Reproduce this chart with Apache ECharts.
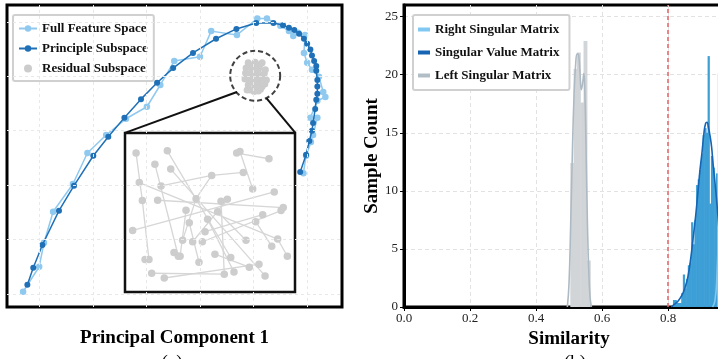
<!DOCTYPE html>
<html>
<head>
<meta charset="utf-8">
<script src="https://cdn.jsdelivr.net/npm/echarts@6/dist/echarts.min.js"></script>
<style>
  html, body { margin: 0; padding: 0; background: #fff; }
  #main { width: 718px; height: 359px; }
</style>
</head>
<body>
<div id="main"></div>
<script>
// ---- panel (a): trajectories in PCA space ----
const fullFeature = [
  [-0.30,0.04],[0.00,0.50],[0.09,0.94],[0.26,1.51],[0.63,2.02],[0.90,2.59],[1.25,2.92],[1.62,3.22],
  [2.01,3.44],[2.26,3.84],[2.52,4.28],[3.00,4.36],[3.21,4.83],[3.69,4.76],[4.07,5.06],[4.25,5.06],
  [4.50,4.93],[4.66,4.83],[4.74,4.74],[4.83,4.80],[4.96,4.76],[4.94,4.43],[5.00,4.25],[5.09,4.12],
  [5.22,3.99],[5.30,3.71],[5.34,3.62],[5.19,3.55],[5.06,3.24],[5.19,3.24],[5.11,2.92],[5.07,2.79],
  [4.98,2.54],[4.93,2.22]
];
const principle = [
  [-0.22,0.17],[-0.11,0.48],[0.06,0.90],[0.37,1.53],[0.65,1.99],[1.01,2.54],[1.29,2.89],[1.59,3.24],
  [1.90,3.58],[2.20,3.88],[2.50,4.15],[2.87,4.43],[3.30,4.69],[3.68,4.87],[4.05,4.98],[4.37,4.98],
  [4.55,4.94],[4.66,4.89],[4.76,4.85],[4.85,4.78],[4.94,4.69],[5.00,4.60],[5.06,4.49],[5.09,4.38],
  [5.13,4.28],[5.17,4.19],[5.17,4.10],[5.19,3.93],[5.19,3.81],[5.19,3.68],[5.17,3.57],[5.15,3.40],
  [5.11,3.14],[5.09,3.00],[5.04,2.81],[4.98,2.56],[4.87,2.24]
];
const residual = [
  [3.90,4.25],[4.03,4.26],[4.16,4.25],[3.86,4.15],[3.97,4.14],[4.10,4.15],[4.22,4.12],[3.92,4.04],
  [4.05,4.03],[4.16,4.01],[3.84,3.95],[3.97,3.93],[4.10,3.92],[4.24,3.93],[3.90,3.84],[4.03,3.82],
  [4.16,3.81],[3.94,3.75],[4.09,3.73],[3.99,4.08],[4.07,3.88],[3.88,3.75],
  [3.85,4.06],[3.95,4.20],[4.12,4.21],[4.20,4.05],[4.21,3.86],[4.13,3.76],[4.00,3.96],[4.08,4.10],
  [3.93,3.89],[4.01,3.72],[3.87,4.00],[4.19,3.97],[4.04,4.17],[3.96,4.02],[4.12,3.97],[4.02,3.89]
];
const residualCenter = [4.03, 4.01];
const zoomLinks = [
  [[3.69,3.71],[1.60,2.96]],
  [[4.24,3.60],[4.78,2.96]]
];
const gridX = [0,1,2,3,4,5];
const gridY = [0,1,2,3,4,5];

// magnified residual points (inset, 0..10 box)
const insetPoints = [
  [0.65,8.74],[2.49,8.88],[1.76,8.04],[2.69,7.73],[6.57,8.74],[6.76,8.84],[8.47,8.38],[6.96,7.52],
  [5.10,7.33],[7.51,6.48],[0.84,6.88],[2.12,6.67],[1.02,5.75],[1.92,5.77],[4.18,5.87],[8.78,6.29],
  [5.65,5.71],[6.02,5.83],[3.59,5.14],[5.45,5.05],[4.86,4.57],[8.10,4.86],[9.31,5.31],[9.18,5.12],
  [0.45,3.87],[3.78,4.36],[4.71,3.79],[7.69,4.42],[3.39,3.26],[3.98,3.16],[4.55,3.16],[7.12,3.26],
  [8.98,3.33],[8.63,2.88],[2.88,2.48],[3.14,2.25],[3.24,2.25],[1.18,2.04],[1.41,2.04],[5.29,2.38],
  [6.22,2.17],[9.55,2.25],[4.35,1.87],[7.31,1.56],[7.88,1.75],[1.57,1.18],[2.31,0.88],[5.84,1.12],
  [6.41,1.26],[8.24,1.01]
];
const insetLinks = [
  [0,12],[12,38],[10,32],[13,22],[24,15],[1,40],[3,49],[2,35],[11,8],[8,7],[14,8],[14,28],[5,9],
  [4,6],[16,47],[17,29],[25,42],[30,23],[27,33],[26,21],[45,47],[46,44],[39,43],[19,31],[18,36],
  [20,48],[32,41]
];

// ---- panel (b): similarity histograms ----
const leftBinStart = 0.504, leftBinWidth = 0.01;
const leftCounts = [12.4, 20.5, 21.9, 17.6, 22.9, 4.0];
const svBinStart = 0.81, svBinWidth = 0.005;
const svCounts = [0, 0.6, 0.6, 0.35, 0.35, 0.35, 1.2, 2.8, 1.6, 2.4, 3.6, 3.8, 7.3, 5.4, 7.5, 10.5,
  11.0, 11.8, 13.2, 14.8, 15.4, 15.0, 21.6, 8.9, 13.0, 12.0, 10.5, 11.5, 8.0, 6.0, 4.5, 3.0, 2.0, 1.0];
const rightBinStart = 0.95, rightBinWidth = 0.005;
const rightCounts = [20.1, 23.0, 25.0, 22.0, 18.0, 12.0, 7.0, 3.0];

const leftKde = [[0.495,0],[0.500,2],[0.505,7],[0.510,13],[0.515,18],[0.520,20.8],[0.525,21.8],
  [0.529,21.7],[0.533,20.3],[0.5375,18.7],[0.541,19.2],[0.545,20.1],[0.548,18.5],[0.552,13],
  [0.556,7],[0.560,3],[0.564,0.8],[0.568,0]];
const svKde = [[0.81,0],[0.818,0.2],[0.83,0.5],[0.842,1.0],[0.852,1.7],[0.861,2.7],[0.869,4.2],
  [0.876,5.9],[0.884,7.9],[0.891,10.0],[0.897,11.8],[0.903,13.3],[0.909,15.0],[0.914,15.8],
  [0.918,15.9],[0.923,15.4],[0.927,14.8],[0.932,13.8],[0.936,12.5],[0.942,10.8],[0.948,9.0],
  [0.955,6.5],[0.962,4.3],[0.97,2.3],[0.98,0.8],[0.99,0.2],[1.0,0]];
const rightKde = [[0.935,0],[0.942,0.5],[0.948,2.5],[0.954,8],[0.96,15],[0.966,21],[0.972,23],
  [0.978,20],[0.985,12],[0.992,5],[1.0,1]];
const threshold = 0.8;

const serif = 'Liberation Serif';

function bins(start, width, counts) {
  return counts.map((c, i) => [start + i * width, start + (i + 1) * width, c]);
}
function histItem(params, api) {
  const a = api.coord([api.value(0), api.value(2)]);
  const b = api.coord([api.value(1), 0]);
  return {
    type: 'rect',
    // small overlap so neighbouring bins don't leave hairline gaps
    shape: { x: a[0], y: a[1], width: b[0] - a[0] + 0.6, height: b[1] - a[1] },
    style: { fill: api.visual('color') }
  };
}
function linkData(links) {
  return links.map(l => ({ coords: [insetPoints[l[0]], insetPoints[l[1]]] }));
}

const hidden = { axisLine: { show: false }, axisTick: { show: false }, axisLabel: { show: false }, splitLine: { show: false } };

const chart = echarts.init(document.getElementById('main'));
chart.setOption({
  animation: false,
  backgroundColor: '#fff',
  grid: [
    { left: 7, top: 5, width: 335, height: 302, show: true, borderColor: '#000', borderWidth: 3, outerBoundsMode: 'none', containLabel: false },
    { left: 125, top: 133, width: 170, height: 159, show: true, borderColor: '#111', borderWidth: 2.5, backgroundColor: 'rgba(0,0,0,0)', outerBoundsMode: 'none' },
    { left: 404, top: 5, width: 330, height: 302, show: true, borderColor: '#000', borderWidth: 3, outerBoundsMode: 'none', containLabel: false }
  ],
  xAxis: [
    Object.assign({ gridIndex: 0, type: 'value', min: -0.6, max: 5.65,
      name: 'Principal Component 1', nameLocation: 'middle', nameGap: 22,
      nameTextStyle: { fontFamily: serif, fontWeight: 'bold', fontSize: 19, color: '#000' } }, hidden),
    Object.assign({ gridIndex: 1, type: 'value', min: 0, max: 10 }, hidden),
    { gridIndex: 2, type: 'value', min: 0, max: 1, interval: 0.2,
      axisLine: { lineStyle: { color: '#000', width: 3 } },
      axisTick: { length: 4, lineStyle: { color: '#000', width: 1 } },
      axisLabel: { formatter: v => v.toFixed(1), fontFamily: serif, fontSize: 13, color: '#222', margin: 5 },
      splitLine: { show: true, showMinLine: false, showMaxLine: false, lineStyle: { color: '#e2e2e2', type: [4, 3], width: 1 } },
      name: 'Similarity', nameLocation: 'middle', nameGap: 22,
      nameTextStyle: { fontFamily: serif, fontWeight: 'bold', fontSize: 19, color: '#000' } }
  ],
  yAxis: [
    Object.assign({ gridIndex: 0, type: 'value', min: -0.24, max: 5.31 }, hidden),
    Object.assign({ gridIndex: 1, type: 'value', min: 0, max: 10 }, hidden),
    { gridIndex: 2, type: 'value', min: 0, max: 26, interval: 5,
      axisLine: { show: true, lineStyle: { color: '#000', width: 3 } },
      axisTick: { show: true, length: 4, lineStyle: { color: '#000', width: 1 } },
      axisLabel: { showMaxLabel: false, fontFamily: serif, fontSize: 13, color: '#222', margin: 6 },
      splitLine: { show: true, showMinLine: false, showMaxLine: false, lineStyle: { color: '#e2e2e2', type: [4, 3], width: 1 } },
      name: 'Sample Count', nameLocation: 'middle', nameGap: 22,
      nameTextStyle: { fontFamily: serif, fontWeight: 'bold', fontSize: 19, color: '#000' } }
  ],
  legend: [
    { left: 13, top: 15, orient: 'vertical',
      data: ['Full Feature Space', 'Principle Subspace', { name: 'Residual Subspace', icon: 'circle' }],
      backgroundColor: '#fff', borderColor: '#d0d0d0', borderWidth: 2, borderRadius: 2,
      padding: [7, 6, 6, 5], itemWidth: 18, itemHeight: 8, itemGap: 7,
      textStyle: { fontFamily: serif, fontWeight: 'bold', fontSize: 13, color: '#111' } },
    { left: 413, top: 15, orient: 'vertical', icon: 'rect',
      data: ['Right Singular Matrix', 'Singular Value Matrix', 'Left Singular Matrix'],
      backgroundColor: '#fff', borderColor: '#d0d0d0', borderWidth: 2, borderRadius: 2,
      padding: [8, 10, 8, 5], itemWidth: 12, itemHeight: 4, itemGap: 10,
      textStyle: { fontFamily: serif, fontWeight: 'bold', fontSize: 13, color: '#111' } }
  ],
  graphic: [
    { type: 'text', x: 172, y: 354, style: { text: '(a)', textAlign: 'center', font: '19px "Liberation Serif"', fill: '#000' } },
    { type: 'text', x: 575, y: 354, style: { text: '(b)', textAlign: 'center', font: '19px "Liberation Serif"', fill: '#000' } }
  ],
  series: [
    { type: 'line', xAxisIndex: 0, yAxisIndex: 0, data: [], silent: true,
      markLine: { silent: true, symbol: 'none', label: { show: false },
        lineStyle: { color: '#e8e8e8', type: [3, 3], width: 1 },
        data: gridX.map(v => ({ xAxis: v })).concat(gridY.map(v => ({ yAxis: v }))) } },
    { name: 'Full Feature Space', type: 'line', xAxisIndex: 0, yAxisIndex: 0, data: fullFeature,
      symbol: 'circle', symbolSize: 6.5, itemStyle: { color: '#8fc9ef', borderWidth: 0 },
      lineStyle: { color: '#8fc9ef', width: 1.5 }, z: 3 },
    { name: 'Principle Subspace', type: 'line', xAxisIndex: 0, yAxisIndex: 0, data: principle,
      symbol: 'circle', symbolSize: 6, itemStyle: { color: '#1f70b6', borderWidth: 0 },
      lineStyle: { color: '#1f70b6', width: 1.5 }, z: 4 },
    { name: 'Residual Subspace', type: 'scatter', xAxisIndex: 0, yAxisIndex: 0, data: residual,
      symbolSize: 7, itemStyle: { color: '#cccccc', opacity: 1 }, z: 3 },
    { type: 'scatter', xAxisIndex: 0, yAxisIndex: 0, data: [residualCenter], symbolSize: 50, silent: true,
      itemStyle: { color: 'rgba(0,0,0,0)', borderColor: '#111', borderWidth: 2, borderType: [5, 3] }, z: 5 },
    { type: 'lines', coordinateSystem: 'cartesian2d', xAxisIndex: 0, yAxisIndex: 0, silent: true,
      data: zoomLinks.map(c => ({ coords: c })), lineStyle: { color: '#111', width: 2, opacity: 1 }, z: 5 },
    { type: 'lines', coordinateSystem: 'cartesian2d', xAxisIndex: 1, yAxisIndex: 1, silent: true,
      data: linkData(insetLinks), lineStyle: { color: '#d6d6d6', width: 1.3, opacity: 1 }, z: 3 },
    { type: 'scatter', xAxisIndex: 1, yAxisIndex: 1, data: insetPoints, symbolSize: 7.5,
      itemStyle: { color: '#cdcdcd', opacity: 1 }, z: 4 },

    { type: 'custom', xAxisIndex: 2, yAxisIndex: 2, renderItem: histItem, data: bins(leftBinStart, leftBinWidth, leftCounts),
      encode: { x: [0, 1], y: 2 }, itemStyle: { color: '#d2d5d8' }, clip: true, z: 2 },
    { type: 'custom', xAxisIndex: 2, yAxisIndex: 2, renderItem: histItem, data: bins(svBinStart, svBinWidth, svCounts),
      encode: { x: [0, 1], y: 2 }, itemStyle: { color: '#3d9fd6' }, clip: true, z: 2 },
    { type: 'custom', xAxisIndex: 2, yAxisIndex: 2, renderItem: histItem, data: bins(rightBinStart, rightBinWidth, rightCounts),
      encode: { x: [0, 1], y: 2 }, itemStyle: { color: '#c4e6f8' }, clip: true, z: 2 },
    { name: 'Right Singular Matrix', type: 'line', xAxisIndex: 2, yAxisIndex: 2, data: rightKde, smooth: true,
      showSymbol: false, itemStyle: { color: '#80c8f2' }, lineStyle: { color: '#80c8f2', width: 1.6 }, z: 3 },
    { name: 'Singular Value Matrix', type: 'line', xAxisIndex: 2, yAxisIndex: 2, data: svKde, smooth: true,
      showSymbol: false, itemStyle: { color: '#1565b4' }, lineStyle: { color: '#1565b4', width: 1.6 }, z: 3 },
    { name: 'Left Singular Matrix', type: 'line', xAxisIndex: 2, yAxisIndex: 2, data: leftKde, smooth: true,
      showSymbol: false, itemStyle: { color: '#b2bec6' }, lineStyle: { color: '#aebac3', width: 1.6 }, z: 3,
      markLine: { silent: true, symbol: 'none', label: { show: false },
        lineStyle: { color: '#e5686a', type: [4, 3], width: 1.6 }, data: [{ xAxis: threshold }] } }
  ]
});
</script>
</body>
</html>
